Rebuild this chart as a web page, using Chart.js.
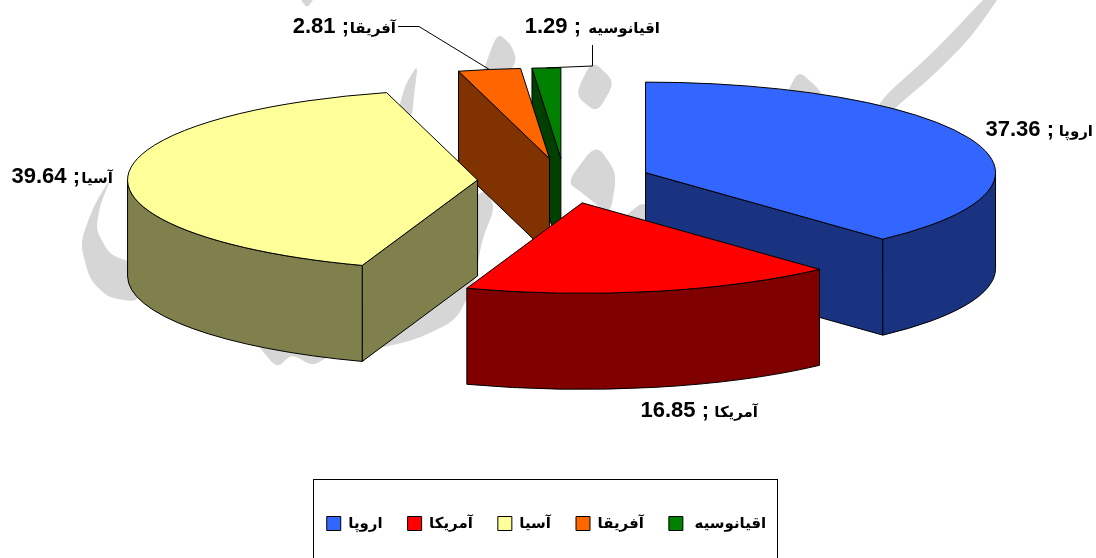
<!DOCTYPE html>
<html lang="fa">
  <head>
    <meta charset="UTF-8" />
    <title>Exploded 3D pie</title>
    <style>
      * {
        margin: 0;
        padding: 0;
      }
      body {
        background: #fff;
        overflow: hidden;
      }
      canvas {
        display: block;
      }
    </style>
  </head>
  <body>
    <canvas id="myChart" width="1096" height="558"></canvas>

    <script src="https://cdn.jsdelivr.net/npm/chart.js"></script>

    <script>
      // data
      const categories = ["اروپا", "آمريكا", "آسيا", "آفريقا", " اقيانوسيه"];
      const shares = [37.36, 16.85, 39.64, 2.81, 1.29];

      // styles
      const topColors = ["#3366FF", "#FF0000", "#FFFF99", "#FF6600", "#008000"];
      const wallColors = ["#1A3380", "#800000", "#80804D", "#803300", "#004000"];
      const drawOrder = [4, 3, 0, 2, 1];

      // where the flattened pie sits on the page
      const centerX = 564.5;
      const centerY = 180.8;
      const squash = 0.2586;
      const explode = 87;
      const depth = 96;

      // right end of the name, right end of the value, baseline of each data label
      const labelRight = [1093, 758, 113, 396, 660];
      const valueRight = [1054, 709, 80, 349, 581];
      const labelBase = [136, 417, 183, 33, 33];
      // leader lines, from the label to the slice edge
      const leaders = {
        3: [[398, 26.5], [419, 26.5]],
        4: [[592.5, 45], [592.5, 66]]
      };

      const nameFont = "bold 15px 'Liberation Sans', 'DejaVu Sans', sans-serif";
      const valueFont = "bold 22px 'Liberation Sans', sans-serif";

      // grey calligraphy behind the chart
      const watermark = [
        [[1003, -8], [971, 37], [936, 73], [901, 103], [870, 130], [880, 100], [936, 50], [990, -8]],
        [[296, -8], [318, -8], [307, 9]],
        [[592, 60], [615, 82], [597, 113], [575, 95]],
        [[596, 144], [617, 173], [610, 216], [585, 195], [567, 182]],
        [[645, 200], [618, 222], [660, 228]],
        [[799, 71], [820, 90], [830, 112], [780, 112], [789, 88]],
        [[497, 33], [510, 43], [517, 60], [505, 80], [480, 80]],
        [[418, 64], [405, 85], [398, 112], [412, 118], [414, 95]],
        [[112, 176], [94, 205], [80, 243], [90, 280], [109, 298], [140, 302], [140, 265], [110, 255], [96, 230], [100, 205]],
        [[258, 346], [277, 368], [292, 354], [312, 366], [330, 356], [330, 335], [258, 335]],
        [[485, 190], [495, 207], [482, 240], [474, 285], [456, 320], [420, 338], [386, 347], [360, 349], [360, 300], [470, 200]]
      ];

      // moves the context into the flattened, pulled out space of one slice
      function enterSlice(ctx, el) {
        const mid = (el.startAngle + el.endAngle) / 2;
        ctx.translate(centerX, centerY);
        ctx.scale(1, squash);
        ctx.translate(-el.x, -el.y);
        ctx.translate(Math.cos(mid) * explode, Math.sin(mid) * explode);
      }

      function outline(ctx) {
        ctx.lineWidth = 1;
        ctx.lineJoin = "round";
        ctx.strokeStyle = "#000";
        ctx.stroke();
      }

      function drawCutFace(ctx, el, angle, color) {
        const r = el.outerRadius;
        const d = depth / squash;
        const px = el.x + Math.cos(angle) * r;
        const py = el.y + Math.sin(angle) * r;
        ctx.save();
        enterSlice(ctx, el);
        ctx.beginPath();
        ctx.moveTo(el.x, el.y);
        ctx.lineTo(px, py);
        ctx.lineTo(px, py + d);
        ctx.lineTo(el.x, el.y + d);
        ctx.closePath();
        ctx.restore();
        ctx.fillStyle = color;
        ctx.fill();
        outline(ctx);
      }

      function drawOuterWall(ctx, el, color) {
        const from = Math.max(el.startAngle, 0);
        const to = Math.min(el.endAngle, Math.PI);
        if (from >= to) return;
        const d = depth / squash;
        ctx.save();
        enterSlice(ctx, el);
        ctx.beginPath();
        ctx.arc(el.x, el.y, el.outerRadius, from, to);
        ctx.arc(el.x, el.y + d, el.outerRadius, to, from, true);
        ctx.closePath();
        ctx.restore();
        ctx.fillStyle = color;
        ctx.fill();
        outline(ctx);
      }

      // chart point on the outer edge of a slice, middle of its angle
      function rimPoint(el) {
        const mid = (el.startAngle + el.endAngle) / 2;
        const ex = Math.cos(mid) * (explode + el.outerRadius);
        const ey = Math.sin(mid) * (explode + el.outerRadius) * squash;
        return [centerX + ex, centerY + ey];
      }

      const backdrop = {
        id: "backdrop",
        beforeDraw(chart) {
          const { ctx } = chart;
          ctx.save();
          ctx.fillStyle = "#fff";
          ctx.fillRect(0, 0, chart.width, chart.height);

          // each corner is rounded off over the last third of its two sides
          const t = 0.33;
          ctx.fillStyle = "#D6D6D6";
          watermark.forEach((shape) => {
            const n = shape.length;
            ctx.beginPath();
            shape.forEach((p, i) => {
              const prev = shape[(i + n - 1) % n];
              const next = shape[(i + 1) % n];
              ctx.lineTo(p[0] + (prev[0] - p[0]) * t, p[1] + (prev[1] - p[1]) * t);
              ctx.quadraticCurveTo(p[0], p[1], p[0] + (next[0] - p[0]) * t, p[1] + (next[1] - p[1]) * t);
            });
            ctx.closePath();
            ctx.fill();
          });

          // legend frame, runs off the bottom of the page
          ctx.strokeStyle = "#000";
          ctx.lineWidth = 1;
          ctx.strokeRect(313.5, 479.5, 464, 100);
          ctx.restore();
        }
      };

      const pie3d = {
        id: "pie3d",
        beforeDatasetDraw(chart, args) {
          const { ctx } = chart;
          const arcs = args.meta.data;

          drawOrder.forEach((i) => {
            const el = arcs[i];
            if (Math.cos(el.startAngle) < 0) drawCutFace(ctx, el, el.startAngle, wallColors[i]);
            if (Math.cos(el.endAngle) > 1e-6) drawCutFace(ctx, el, el.endAngle, wallColors[i]);
            drawOuterWall(ctx, el, wallColors[i]);
          });

          drawOrder.forEach((i) => {
            const el = arcs[i];
            ctx.save();
            enterSlice(ctx, el);
            el.draw(ctx);
            ctx.beginPath();
            ctx.moveTo(el.x, el.y);
            ctx.arc(el.x, el.y, el.outerRadius, el.startAngle, el.endAngle);
            ctx.closePath();
            ctx.restore();
            outline(ctx);
          });
          return false;
        },
        afterDraw(chart) {
          const { ctx } = chart;
          const arcs = chart.getDatasetMeta(0).data;
          ctx.save();
          ctx.fillStyle = "#000";
          ctx.textBaseline = "alphabetic";
          ctx.textAlign = "right";

          categories.forEach((name, i) => {
            ctx.font = nameFont;
            ctx.fillText(name, labelRight[i], labelBase[i]);

            ctx.font = valueFont;
            ctx.fillText(shares[i].toFixed(2) + " ;", valueRight[i], labelBase[i]);

            if (leaders[i]) {
              const rim = rimPoint(arcs[i]);
              ctx.beginPath();
              leaders[i].forEach((p, k) => (k ? ctx.lineTo(p[0], p[1]) : ctx.moveTo(p[0], p[1])));
              ctx.lineTo(rim[0], rim[1]);
              ctx.strokeStyle = "#000";
              ctx.lineWidth = 1;
              ctx.stroke();
            }
          });
          ctx.restore();
        }
      };

      const config = {
        type: "pie",
        data: {
          labels: categories,
          datasets: [
            {
              data: shares,
              backgroundColor: topColors,
              borderWidth: 0
            }
          ]
        },
        options: {
          responsive: false,
          animation: false,
          radius: 350,
          layout: { padding: { right: 3, bottom: 17 } },
          plugins: {
            tooltip: { enabled: false },
            legend: {
              position: "bottom",
              labels: {
                boxWidth: 14,
                boxHeight: 14,
                padding: 25,
                color: "#000",
                font: { family: "'Liberation Sans', 'DejaVu Sans', sans-serif", size: 15, weight: "bold" },
                generateLabels(chart) {
                  const items = Chart.overrides.pie.plugins.legend.labels.generateLabels(chart);
                  return items.map((item) => ({ ...item, strokeStyle: "#000", lineWidth: 1 }));
                }
              }
            }
          }
        },
        plugins: [backdrop, pie3d]
      };

      const myChart = new Chart(document.getElementById("myChart"), config);
    </script>
  </body>
</html>
